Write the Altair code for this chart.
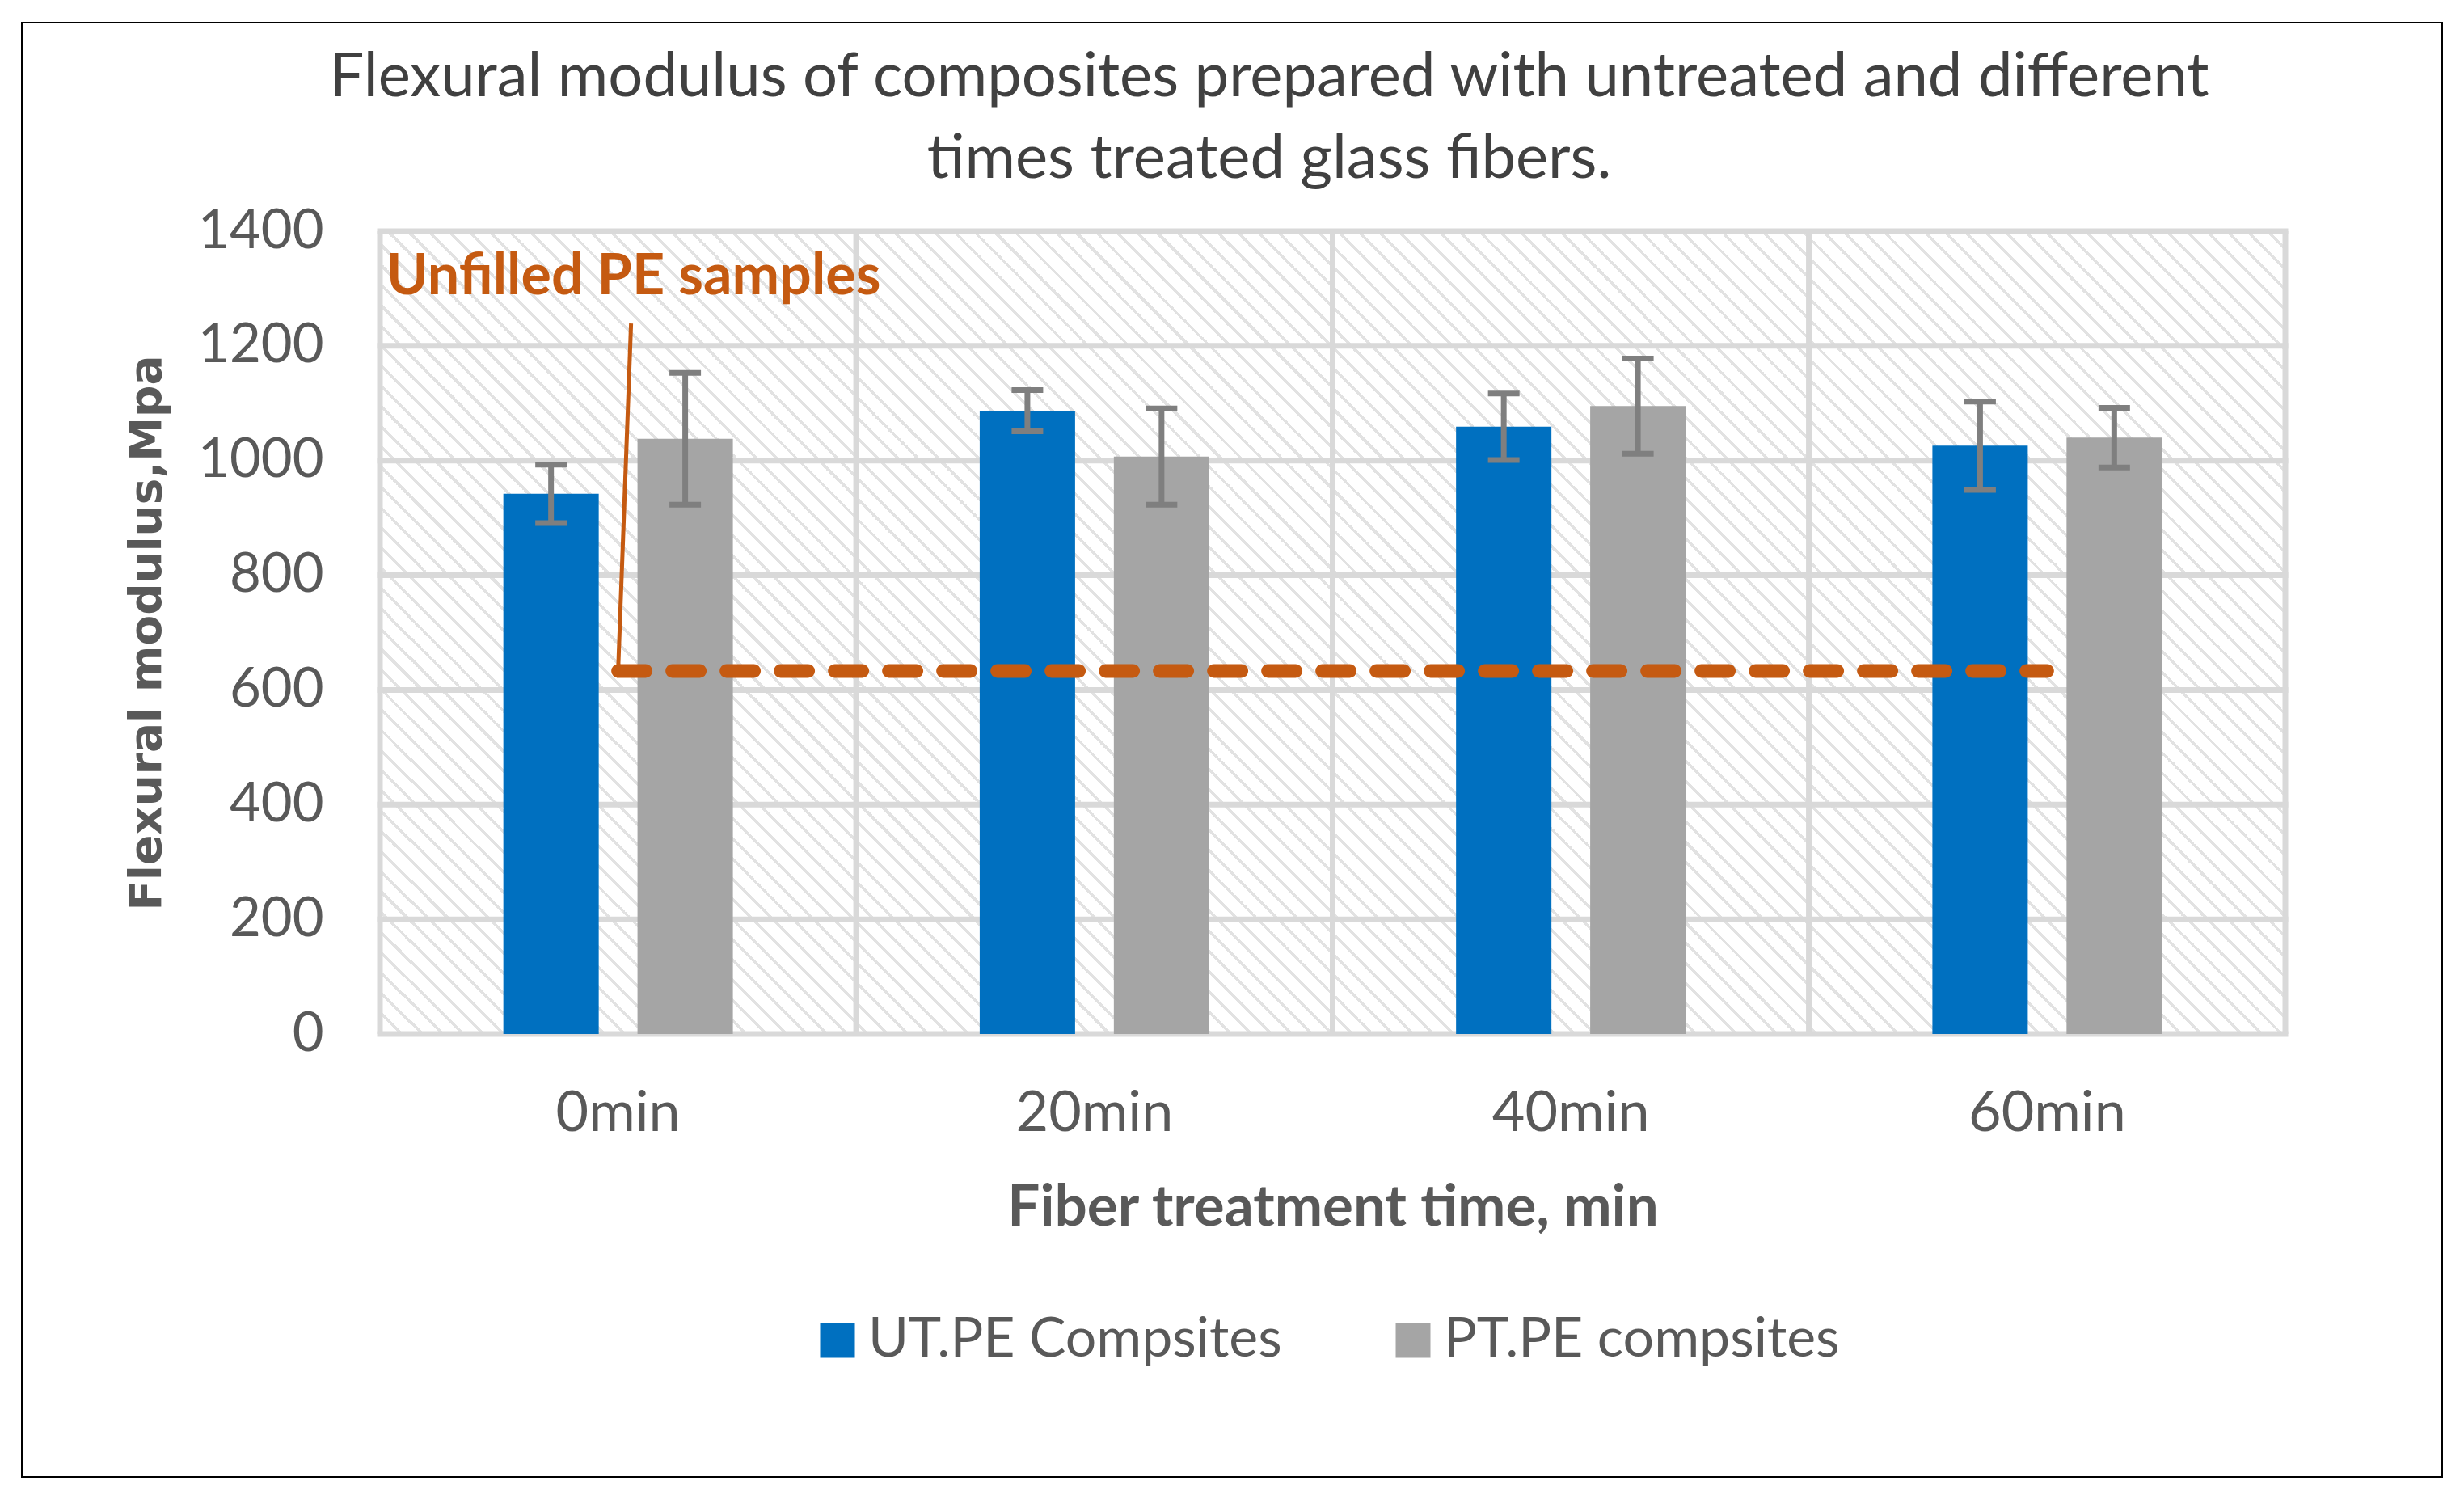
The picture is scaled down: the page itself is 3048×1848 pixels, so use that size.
import altair as alt
import pandas as pd

# ---------------- data ----------------
categories = ["0min", "20min", "40min", "60min"]
series = ["UT.PE Compsites", "PT.PE compsites"]
ut_values = [942, 1087, 1059, 1026]
ut_errors = [51, 36, 58, 77]
pt_values = [1038, 1007, 1095, 1040]
pt_errors = [115, 84, 83, 52]
y_ticks = [0, 200, 400, 600, 800, 1000, 1200, 1400]
unfilled_pe = 633
annotation_text = "Unfilled PE samples"
annotation_label_y = 1290
annotation_leader_top = 1239

title_lines = ["Flexural modulus of composites prepared with untreated and different",
               "times treated glass fibers."]
x_title = "Fiber treatment time, min"
y_title = "Flexural modulus,Mpa"

# ---------------- tables ----------------
rows = []
for s, vals, errs in [(series[0], ut_values, ut_errors), (series[1], pt_values, pt_errors)]:
    for c, v, e in zip(categories, vals, errs):
        rows.append({"cat": c, "series": s, "value": v, "lo": v - e, "hi": v + e})
bars_df = pd.DataFrame(rows)
grid_df = pd.DataFrame({"tick": y_ticks})
cat_df = pd.DataFrame({"cat": categories})
line_df = pd.DataFrame({"cat": [categories[0], categories[-1]], "value": [unfilled_pe, unfilled_pe]})
ann_df = pd.DataFrame({"cat": [categories[0]], "value": [annotation_label_y], "text": [annotation_text]})
leader_df = pd.DataFrame({"cat": [categories[0]], "lo": [unfilled_pe], "hi": [annotation_leader_top]})

# ---------------- style ----------------
W, H = 2357, 993
BLUE, GRAY, ERR, ORANGE = "#0070C0", "#A5A5A5", "#7F7F7F", "#C55A11"
GRID = "#D9D9D9"
HATCH = "#E2E2E2"
TXT = "#595959"
FONT = "Lato"

x_scale = alt.Scale(domain=categories, paddingInner=0, paddingOuter=0)
y_scale = alt.Scale(domain=[0, 1400], nice=False, zero=True)
x_axis = alt.Axis(title=x_title, labelAngle=0, ticks=False, domain=False, grid=False,
                  labelFont=FONT, labelFontSize=70, labelColor=TXT, labelPadding=98,
                  labelBaseline="middle", labelLimit=0,
                  titleFont=FONT, titleFontSize=71, titleFontWeight="bold", titleColor=TXT,
                  titleY=215, titleBaseline="middle", titleLimit=0)
y_axis = alt.Axis(title=y_title, values=y_ticks, format="d", ticks=False, domain=False,
                  grid=False, labelFont=FONT, labelFontSize=67, labelColor=TXT,
                  labelPadding=70, labelBaseline="middle", labelLimit=0,
                  titleFont="DejaVu Sans", titleFontSize=55, titleFontWeight="bold",
                  titleColor=TXT, titleX=-289, titleY=H / 2, titleBaseline="middle",
                  titleAngle=270, titleLimit=0)
xoff_scale = alt.Scale(domain=series, paddingInner=0.289, paddingOuter=0.92)


def X(**kw):
    return alt.X("cat:N", sort=categories, scale=x_scale, axis=x_axis, **kw)


def Y(field):
    return alt.Y(field, scale=y_scale, axis=y_axis)


def XO():
    return alt.XOffset("series:N", sort=series, scale=xoff_scale)


# hatch background via a striped linear gradient (45 degree "\" stripes)
n_stripes = 134
duty = 0.2
stops = []
for i in range(n_stripes):
    a = i / n_stripes
    b = (i + duty) / n_stripes
    c = (i + 1) / n_stripes
    stops += [{"offset": a, "color": HATCH}, {"offset": b, "color": HATCH},
              {"offset": b, "color": "#FFFFFF"}, {"offset": c, "color": "#FFFFFF"}]
ratio = H / W
s = (1 + ratio) / (1 + ratio * ratio)
hatch = {"gradient": "linear", "x1": 0, "y1": 1, "x2": s, "y2": 1 - ratio * s, "stops": stops}

one = alt.Data(values=[{}])

border = alt.Chart(one).mark_rect(fill="transparent", stroke="#000000", strokeWidth=2).encode(
    x=alt.value(-443), x2=alt.value(2551), y=alt.value(-258), y2=alt.value(1541))

title = alt.Chart(one).mark_text(text=title_lines, font=FONT, fontSize=76, color="#404040",
                                 align="center", baseline="alphabetic", lineHeight=101).encode(
    x=alt.value(1100), y=alt.value(-167))

background = alt.Chart(one).mark_rect(fill=hatch, strokeWidth=0).encode(
    x=alt.value(0), x2=alt.value(W), y=alt.value(0), y2=alt.value(H))

vgrid0 = alt.Chart(cat_df).mark_rule(color=GRID, strokeWidth=7).encode(
    x=X(bandPosition=0), y=alt.value(0), y2=alt.value(H))
vgrid1 = alt.Chart(cat_df).mark_rule(color=GRID, strokeWidth=7).encode(
    x=X(bandPosition=1), y=alt.value(0), y2=alt.value(H))
hgrid = alt.Chart(grid_df).mark_rule(color=GRID, strokeWidth=7).encode(
    y=Y("tick:Q"), x=alt.value(-3.5), x2=alt.value(W + 3.5))

bars = alt.Chart(bars_df).mark_bar(size=118).encode(
    x=X(), xOffset=XO(), y=Y("value:Q"),
    color=alt.Color("series:N", sort=series,
                    scale=alt.Scale(domain=series, range=[BLUE, GRAY]),
                    legend=alt.Legend(title=None, orient="none", legendX=532, legendY=1338,
                                      direction="horizontal", symbolType="square",
                                      symbolSize=1849, symbolStrokeWidth=0,
                                      labelFont=FONT, labelFontSize=68, labelColor=TXT,
                                      labelOffset=4, columnPadding=128, padding=0,
                                      labelLimit=0)))

err_rule = alt.Chart(bars_df).mark_rule(color=ERR, strokeWidth=7).encode(
    x=X(), xOffset=XO(), y=Y("lo:Q"), y2="hi:Q")
cap_lo = alt.Chart(bars_df).mark_tick(color=ERR, size=39, thickness=7, opacity=1).encode(
    x=X(), xOffset=XO(), y=Y("lo:Q"))
cap_hi = alt.Chart(bars_df).mark_tick(color=ERR, size=39, thickness=7, opacity=1).encode(
    x=X(), xOffset=XO(), y=Y("hi:Q"))

dashed = alt.Chart(line_df).mark_line(color=ORANGE, strokeWidth=17, strokeDash=[34, 33],
                                      strokeCap="round").encode(x=X(), y=Y("value:Q"))

leader = alt.Chart(leader_df).mark_rule(color=ORANGE, strokeWidth=5, x2Offset=16).encode(
    x=X(), x2="cat:N", y=Y("lo:Q"), y2="hi:Q")

label = alt.Chart(ann_df).mark_text(color=ORANGE, font=FONT, fontSize=70, fontWeight="bold",
                                    align="left", baseline="alphabetic", dx=8).encode(
    x=X(bandPosition=0), y=Y("value:Q"), text="text:N")

chart = alt.layer(border, title, background, vgrid0, vgrid1, hgrid, bars, err_rule, cap_lo,
                  cap_hi, dashed, leader, label).properties(
    width=W, height=H,
    padding={"left": 18, "top": 19, "right": 10, "bottom": 10},
).configure_view(stroke=None).configure(background="#FFFFFF")

chart.save("out.html", embed_options={"renderer": "svg", "actions": False})
